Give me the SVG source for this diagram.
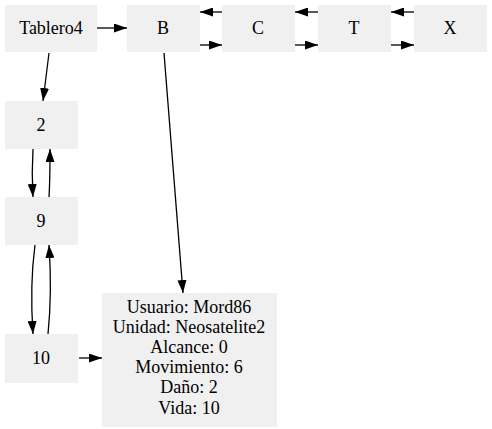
<svg xmlns="http://www.w3.org/2000/svg" width="492" height="429" viewBox="0 0 492 429">
<defs>
<style>
.n{fill:#f0f0f0;stroke:none}
text{font-family:"Liberation Serif","Times New Roman",serif;font-size:18px;fill:#000;text-anchor:middle}
.e{fill:none;stroke:#000;stroke-width:1.3}
</style>
<marker id="a" markerWidth="13" markerHeight="9" refX="13" refY="4.5" orient="auto" markerUnits="userSpaceOnUse">
<polygon points="0,0 13,4.5 0,9" fill="#000"/>
</marker>
</defs>
<rect width="492" height="429" fill="#fff"/>
<g id="Tablero4"><rect class="n" x="5" y="5" width="92" height="47"/><text x="51" y="34">Tablero4</text></g>
<g id="B"><rect class="n" x="127" y="5" width="73" height="47"/><text x="163" y="34">B</text></g>
<g id="C"><rect class="n" x="222" y="5" width="73" height="47"/><text x="258" y="34">C</text></g>
<g id="T"><rect class="n" x="318" y="5" width="73" height="47"/><text x="354" y="34">T</text></g>
<g id="X"><rect class="n" x="414" y="5" width="73" height="47"/><text x="450" y="34">X</text></g>
<g id="n2"><rect class="n" x="5" y="101" width="73" height="48"/><text x="41" y="131">2</text></g>
<g id="n9"><rect class="n" x="5" y="197" width="73" height="48"/><text x="41" y="227">9</text></g>
<g id="n10"><rect class="n" x="5" y="334" width="73" height="49"/><text x="41" y="364">10</text></g>
<g id="info"><rect class="n" x="102" y="293" width="175" height="134"/>
<text x="189" y="313">Usuario: Mord86</text>
<text x="189" y="333">Unidad: Neosatelite2</text>
<text x="189" y="353">Alcance: 0</text>
<text x="189" y="373">Movimiento: 6</text>
<text x="189" y="393">Daño: 2</text>
<text x="189" y="414">Vida: 10</text>
</g>
<g id="edges">
<line class="e" x1="97" y1="28" x2="127" y2="28" marker-end="url(#a)"/>
<line class="e" x1="200" y1="45" x2="222" y2="45" marker-end="url(#a)"/>
<line class="e" x1="222" y1="12" x2="200" y2="12" marker-end="url(#a)"/>
<line class="e" x1="295" y1="45" x2="318" y2="45" marker-end="url(#a)"/>
<line class="e" x1="318" y1="12" x2="295" y2="12" marker-end="url(#a)"/>
<line class="e" x1="391" y1="45" x2="414" y2="45" marker-end="url(#a)"/>
<line class="e" x1="414" y1="12" x2="391" y2="12" marker-end="url(#a)"/>
<line class="e" x1="49" y1="53" x2="43" y2="101" marker-end="url(#a)"/>
<path class="e" d="M33,149 C32,165 32,180 33,197" marker-end="url(#a)"/>
<path class="e" d="M49,197 C50,181 50,165 50,149" marker-end="url(#a)"/>
<path class="e" d="M35,245 C31,275 31,305 33,334" marker-end="url(#a)"/>
<path class="e" d="M48,334 C51,305 51,275 49,245" marker-end="url(#a)"/>
<line class="e" x1="79" y1="358" x2="102" y2="358" marker-end="url(#a)"/>
<line class="e" x1="164" y1="53" x2="183" y2="293" marker-end="url(#a)"/>
</g>
</svg>
